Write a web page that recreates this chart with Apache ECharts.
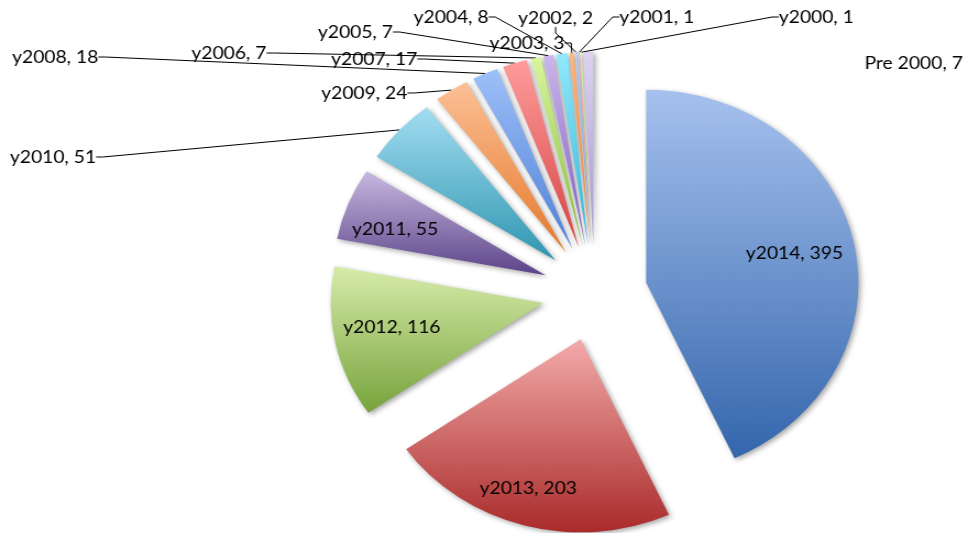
<!DOCTYPE html>
<html><head><meta charset="utf-8">
<script src="https://cdn.jsdelivr.net/npm/echarts@6/dist/echarts.min.js"></script>
<style>
html,body{margin:0;padding:0;background:#fff;overflow:hidden}
#main{width:877px;height:533px;transform:scaleX(1.1);transform-origin:0 0;}
</style>
</head><body><div id="main"></div>
<script>
// ---- data (clockwise from 12 o'clock) ----
const categories = ['y2014','y2013','y2012','y2011','y2010','y2009','y2008','y2007','y2006','y2005','y2004','y2003','y2002','y2001','y2000','Pre 2000'];
const values = [395, 203, 116, 55, 51, 24, 18, 17, 7, 7, 8, 3, 2, 1, 1, 7];

// ---- styles ----
const topColors = ['#A6C1EE','#F3ABAA','#D7ECAB','#C7B8E0','#A3DDF2','#FCC096','#9DC0F8','#FF9C9C','#DAF59E','#CBB6EC','#92E9FB','#FFB880','#B9D0F6','#F6BABA','#DEF1BA','#DED3F1'];
const bottomColors = ['#3466AC','#A92B2A','#77A33B','#5C4388','#2E96B0','#E5782A','#4F7FD6','#D64343','#86BC3A','#7C5CBC','#2FB4D6','#EE7A28','#6E95D8','#D87070','#A7C86A','#A593CF'];
const labelPos = [[678,253],[436,488],[312,327],[320,229],[9,157],[292,93],[11,57],[301,59],[174,53],[289,32],[376,17],[445,43],[471,18],[563,17],[708,17],[786,63]];
const insideCount = 4;
const pieCenter = [540.5, 293];
const pieRadius = 193;
const explode = 48;

const chart = echarts.init(document.getElementById('main'), null, {renderer: 'canvas'});

// visible, exploded slices
const sliceData = categories.map((n, i) => ({
  name: n,
  value: values[i],
  selected: true,
  itemStyle: {
    color: new echarts.graphic.LinearGradient(0, 0, 0, 1, [
      {offset: 0, color: topColors[i]},
      {offset: 1, color: bottomColors[i]}
    ])
  }
}));

// invisible carrier for the data labels (reaches the outer edge of the exploded slices)
const labelData = categories.map((n, i) => ({
  name: n,
  value: values[i],
  label: {position: i < insideCount ? 'inside' : 'outside'},
  labelLine: {show: i >= insideCount && n !== 'Pre 2000'}
}));

chart.setOption({
  animation: false,
  backgroundColor: '#fff',
  series: [{
    type: 'pie',
    center: pieCenter,
    radius: pieRadius,
    startAngle: 90,
    clockwise: true,
    selectedMode: 'multiple',
    selectedOffset: explode,
    data: sliceData,
    label: {show: false},
    labelLine: {show: false},
    itemStyle: {
      borderWidth: 0,
      shadowBlur: 5,
      shadowColor: 'rgba(0,0,0,0.35)',
      shadowOffsetX: 2,
      shadowOffsetY: 2
    },
    emphasis: {disabled: true},
    select: {itemStyle: {borderWidth: 0}}
  }, {
    type: 'pie',
    silent: true,
    center: pieCenter,
    radius: pieRadius + explode,
    startAngle: 90,
    clockwise: true,
    avoidLabelOverlap: false,
    data: labelData,
    itemStyle: {color: 'rgba(0,0,0,0)', borderWidth: 0},
    label: {
      show: true,
      formatter: '{b}, {c}',
      fontFamily: 'Lato',
      fontSize: 17.5,
      color: '#000'
    },
    labelLine: {
      show: true,
      length: 8,
      length2: 6,
      smooth: false,
      lineStyle: {color: '#000', width: 1}
    },
    labelLayout: function (p) {
      const pos = labelPos[p.dataIndex];
      return {x: pos[0], y: pos[1], align: 'left', verticalAlign: 'middle'};
    },
    emphasis: {disabled: true}
  }]
});
</script>
</body></html>
